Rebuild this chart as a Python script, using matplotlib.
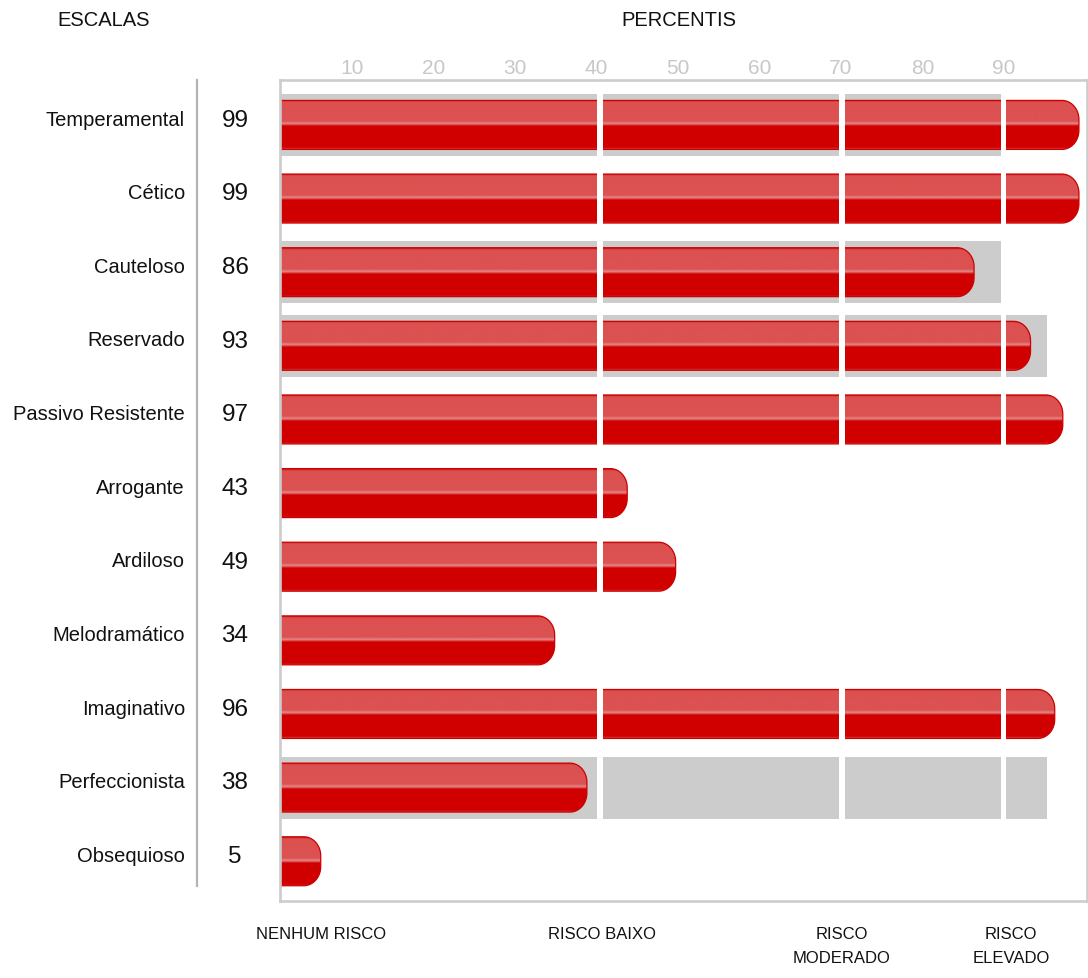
import numpy as np
import matplotlib
matplotlib.use("Agg")
import matplotlib.pyplot as plt
from matplotlib.path import Path
from matplotlib.patches import PathPatch
from matplotlib.colors import LinearSegmentedColormap
import matplotlib.transforms as mtransforms

plt.rcParams['font.family'] = ['Liberation Sans', 'DejaVu Sans']

# data
escalas = ["Temperamental", "Cético", "Cauteloso", "Reservado", "Passivo Resistente",
           "Arrogante", "Ardiloso", "Melodramático", "Imaginativo", "Perfeccionista",
           "Obsequioso"]
percentis = [99, 99, 86, 93, 97, 43, 49, 34, 96, 38, 5]
faixa_cinza = [90, 0, 90, 95, 0, 0, 0, 0, 0, 95, 0]
ticks_top = [10, 20, 30, 40, 50, 60, 70, 80, 90]
cortes = [40, 70, 90]
riscos = ["NENHUM RISCO", "RISCO BAIXO", "RISCO\nMODERADO", "RISCO\nELEVADO"]
riscos_pos = [5, 39.9, 69.6, 90.6]

W, H = 1088, 979
fig = plt.figure(figsize=(W / 100, H / 100), dpi=100)
ax = fig.add_axes([280.4 / W, (H - 902) / H, 806.6 / W, 821 / H])

ax.set_xlim(0, 100)
ax.set_ylim(10.54, -0.61)
ax.set_xticks([])
ax.set_yticks([])
for s in ax.spines.values():
    s.set_color('#cccccc')
    s.set_linewidth(1.9)
    s.set_zorder(10)

bar_h = 0.665
band_h = 0.84
rx = 2.1
ry = 0.26

cmap = LinearSegmentedColormap.from_list(
    "barra",
    [(0.0, '#cc1010'), (0.03, '#dc5050'), (0.43, '#dc5252'), (0.48, '#e68a8a'),
     (0.53, '#d10000'), (0.97, '#d00000'), (1.0, '#d63c3c')])
grad = np.linspace(0, 1, 200).reshape(-1, 1)

# gray bands
for i, g in enumerate(faixa_cinza):
    if g > 0:
        ax.barh(i, g, height=band_h, left=0, color='#cccccc', zorder=1)


def barra_path(v, yc):
    top = yc - bar_h / 2
    bot = yc + bar_h / 2
    t = np.linspace(0, np.pi / 2, 20)
    verts = [(0, top), (v - rx, top)]
    # upper corner
    for a in t:
        verts.append((v - rx + rx * np.sin(a), top + ry - ry * np.cos(a)))
    verts.append((v, bot - ry))
    for a in t:
        verts.append((v - rx + rx * np.cos(a), bot - ry + ry * np.sin(a)))
    verts.append((0, bot))
    verts.append((0, top))
    return Path(verts, closed=True)


for i, v in enumerate(percentis):
    p = barra_path(v, i)
    patch = PathPatch(p, facecolor='none', edgecolor='#cc0000', linewidth=0.9, zorder=4)
    ax.add_patch(patch)
    im = ax.imshow(grad, cmap=cmap, aspect='auto', interpolation='bilinear',
                   extent=[0, v, i + bar_h / 2, i - bar_h / 2], zorder=2)
    im.set_clip_path(patch)

ax.set_xlim(0, 100)
ax.set_ylim(10.54, -0.61)

# white gaps
for c in cortes:
    ax.axvspan(c - 0.7, c, color='white', zorder=5, lw=0)

# texts
tr_left = mtransforms.blended_transform_factory(fig.transFigure, ax.transData)
for i, (nome, v) in enumerate(zip(escalas, percentis)):
    ax.text(185 / W, i - 0.08, nome, transform=tr_left, ha='right', va='center',
            fontsize=14.5, color='#111111')
    ax.text(235 / W, i - 0.07, str(v), transform=tr_left, ha='center', va='center',
            fontsize=17.5, color='#111111')

tr_top = mtransforms.blended_transform_factory(ax.transData, fig.transFigure)
for t in ticks_top:
    ax.text(8.9 + (t - 10) * 1.01, (H - 68) / H, str(t), transform=tr_top,
            ha='center', va='center', fontsize=15, color='#c8c8c8')

for r, x in zip(riscos, riscos_pos):
    ax.text(x, (H - 927) / H, r, transform=tr_top, ha='center', va='top',
            fontsize=12, color='#111111', linespacing=1.75)

fig.text(104 / W, (H - 21) / H, "ESCALAS", ha='center', va='center', fontsize=14.5, color='#111111')
fig.text(679 / W, (H - 21) / H, "PERCENTIS", ha='center', va='center', fontsize=14.5, color='#111111')

# left separator line
fig.add_artist(plt.Line2D([197 / W, 197 / W], [(H - 81) / H, (H - 887) / H],
                          transform=fig.transFigure, color='#b4b4b4', linewidth=1.6))

fig.savefig("out.png", dpi=100)
